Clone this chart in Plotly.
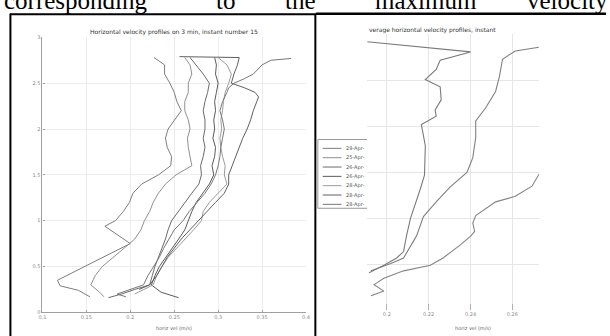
import plotly.graph_objects as go

W, H = 610, 336

# ---------------- data ----------------
top_words = ["corresponding", "to", "the", "maximum", "velocity"]

left_title = "Horizontal velocity profiles on 3 min, instant number 15"
right_title = "verage horizontal velocity profiles, instant"
x_label = "horiz vel (m/s)"

legend_labels = ["29-Apr-", "25-Apr-", "26-Apr-", "26-Apr-", "28-Apr-", "28-Apr-", "28-Apr-"]

p1_y = [2.78, 2.70, 2.60, 2.50, 2.40, 2.30, 2.20, 2.10, 2.00, 1.90, 1.80, 1.70, 1.60, 1.50, 1.40, 1.30, 1.20, 1.10, 1.00, 0.94, 0.85, 0.75, 0.65, 0.55, 0.45, 0.35, 0.29, 0.24, 0.17]
p1_x = [0.227, 0.239, 0.239, 0.245, 0.250, 0.253, 0.258, 0.250, 0.243, 0.240, 0.242, 0.247, 0.246, 0.232, 0.213, 0.203, 0.199, 0.192, 0.183, 0.171, 0.185, 0.200, 0.179, 0.158, 0.137, 0.117, 0.120, 0.141, 0.154]

p2_y = [2.78, 2.70, 2.60, 2.50, 2.40, 2.30, 2.20, 2.10, 2.00, 1.90, 1.80, 1.70, 1.60, 1.50, 1.40, 1.30, 1.20, 1.10, 1.00, 0.90, 0.80, 0.70, 0.60, 0.50, 0.40, 0.30, 0.22, 0.17]
p2_x = [0.262, 0.268, 0.270, 0.266, 0.266, 0.262, 0.262, 0.266, 0.268, 0.265, 0.266, 0.268, 0.270, 0.252, 0.240, 0.232, 0.226, 0.222, 0.216, 0.212, 0.205, 0.193, 0.180, 0.168, 0.160, 0.155, 0.165, 0.170]

p3_y = [2.78, 2.70, 2.60, 2.50, 2.40, 2.30, 2.20, 2.10, 2.00, 1.90, 1.80, 1.70, 1.60, 1.50, 1.40, 1.30, 1.20, 1.10, 1.00, 0.90, 0.80, 0.70, 0.60, 0.50, 0.40, 0.30, 0.25, 0.20, 0.16]
p3_x = [0.268, 0.275, 0.283, 0.290, 0.288, 0.285, 0.283, 0.285, 0.285, 0.283, 0.285, 0.283, 0.280, 0.281, 0.278, 0.270, 0.262, 0.255, 0.247, 0.243, 0.240, 0.236, 0.232, 0.228, 0.225, 0.222, 0.205, 0.190, 0.175]

p4_y = [2.78, 2.70, 2.60, 2.50, 2.40, 2.30, 2.20, 2.10, 2.00, 1.90, 1.80, 1.70, 1.60, 1.50, 1.40, 1.30, 1.20, 1.10, 1.00, 0.90, 0.80, 0.70, 0.60, 0.50, 0.40, 0.30, 0.22, 0.16]
p4_x = [0.296, 0.298, 0.297, 0.300, 0.298, 0.296, 0.297, 0.295, 0.296, 0.294, 0.297, 0.296, 0.293, 0.295, 0.290, 0.283, 0.275, 0.270, 0.266, 0.262, 0.255, 0.248, 0.240, 0.233, 0.228, 0.224, 0.235, 0.255]

p5_y = [2.78, 2.70, 2.60, 2.50, 2.40, 2.30, 2.20, 2.10, 2.00, 1.90, 1.80, 1.70, 1.60, 1.50, 1.40, 1.30, 1.20, 1.10, 1.00, 0.90, 0.80, 0.70, 0.60, 0.50, 0.40, 0.30, 0.25, 0.20]
p5_x = [0.300, 0.310, 0.315, 0.312, 0.308, 0.306, 0.305, 0.303, 0.304, 0.302, 0.303, 0.305, 0.308, 0.307, 0.310, 0.300, 0.290, 0.283, 0.281, 0.272, 0.262, 0.252, 0.243, 0.236, 0.230, 0.226, 0.215, 0.205]

p6_y = [2.79, 2.78, 2.70, 2.60, 2.50, 2.45, 2.40, 2.35, 2.30, 2.20, 2.10, 2.00, 1.90, 1.80, 1.70, 1.60, 1.50, 1.40, 1.30, 1.20, 1.10, 1.00, 0.90, 0.80, 0.70, 0.60, 0.50, 0.40, 0.30, 0.25]
p6_x = [0.256, 0.324, 0.322, 0.318, 0.315, 0.330, 0.342, 0.346, 0.344, 0.340, 0.337, 0.333, 0.328, 0.324, 0.320, 0.316, 0.312, 0.312, 0.307, 0.297, 0.287, 0.277, 0.268, 0.258, 0.250, 0.242, 0.236, 0.230, 0.222, 0.210]

p7_y = [2.77, 2.75, 2.70, 2.60, 2.55, 2.50, 2.45, 2.40, 2.30, 2.20, 2.10, 2.00, 1.90, 1.80, 1.70, 1.60, 1.50, 1.40, 1.30, 1.20, 1.10, 1.00, 0.90, 0.80, 0.70, 0.60, 0.50, 0.40, 0.30, 0.25, 0.20, 0.17]
p7_x = [0.383, 0.360, 0.350, 0.340, 0.330, 0.318, 0.312, 0.310, 0.305, 0.302, 0.305, 0.307, 0.305, 0.303, 0.302, 0.300, 0.297, 0.292, 0.285, 0.276, 0.267, 0.260, 0.250, 0.244, 0.238, 0.233, 0.226, 0.220, 0.215, 0.200, 0.185, 0.195]

left_profiles = [(p1_x, p1_y), (p2_x, p2_y), (p3_x, p3_y), (p4_x, p4_y),
                 (p5_x, p5_y), (p6_x, p6_y), (p7_x, p7_y)]
left_colors = ["#7d7d7d", "#8f8f8f", "#6a6a6a", "#5a5a5a", "#9a9a9a", "#606060", "#777777"]

# right panel: average profiles
r1_y = [2.92, 2.81, 2.72, 2.62, 2.51, 2.43, 2.29, 2.18, 2.11, 2.02, 1.79, 1.47, 1.32, 1.00, 0.81, 0.64, 0.57, 0.49, 0.41]
r1_x = [0.1906, 0.240, 0.2255, 0.2236, 0.2184, 0.2255, 0.226, 0.2231, 0.2236, 0.2165, 0.2184, 0.218, 0.216, 0.2113, 0.2094, 0.208, 0.2047, 0.1986, 0.1915]

r2_y = [2.86, 2.82, 2.73, 2.55, 2.38, 2.20, 2.06, 1.88, 1.66, 1.50, 1.34, 1.18, 1.02, 0.81, 0.57, 0.51, 0.43]
r2_x = [0.2727, 0.2614, 0.2553, 0.2539, 0.252, 0.2472, 0.2425, 0.2425, 0.2411, 0.2383, 0.2302, 0.2236, 0.2175, 0.2142, 0.208, 0.2019, 0.1924]

r3_y = [1.62, 1.48, 1.35, 1.24, 1.18, 1.03, 0.95, 0.86, 0.81, 0.71, 0.57, 0.49, 0.43, 0.35, 0.28, 0.21, 0.16]
r3_x = [0.280, 0.2727, 0.2694, 0.2614, 0.252, 0.2425, 0.2411, 0.242, 0.2402, 0.235, 0.2269, 0.2208, 0.208, 0.1986, 0.1939, 0.1986, 0.1924]

right_profiles = [(r1_x, r1_y), (r2_x, r2_y), (r3_x, r3_y)]
right_colors = ["#7a7a7a", "#808080", "#858585"]

left_xticks = [0.1, 0.15, 0.2, 0.25, 0.3, 0.35, 0.4]
left_yticks = [0, 0.5, 1, 1.5, 2, 2.5, 3]
right_xticks = [0.2, 0.22, 0.24, 0.26]


# ---------------- helpers (pixel -> paper) ----------------
def fx(px):
    return px / W


def fy(py):
    return 1 - py / H


fig = go.Figure()

for (xs, ys), c in zip(left_profiles, left_colors):
    fig.add_trace(go.Scatter(x=xs, y=ys, mode="lines", line=dict(color=c, width=1),
                             xaxis="x", yaxis="y", showlegend=False, hoverinfo="skip"))

for (xs, ys), c in zip(right_profiles, right_colors):
    fig.add_trace(go.Scatter(x=xs, y=ys, mode="lines", line=dict(color=c, width=1.1),
                             xaxis="x2", yaxis="y2", showlegend=False, hoverinfo="skip",
                             cliponaxis=True))

tickfont = dict(family="DejaVu Sans", size=5, color="#8a8a8a")

fig.update_layout(
    width=W, height=H,
    margin=dict(l=0, r=0, t=0, b=0),
    paper_bgcolor="white", plot_bgcolor="white",
    showlegend=False,
    xaxis=dict(domain=[fx(39), fx(306)], range=[0.1, 0.4], anchor="y",
               tickvals=left_xticks, ticktext=[str(v) for v in left_xticks],
               tickfont=tickfont, showgrid=True, gridcolor="#ececec", gridwidth=1,
               showline=True, linecolor="#a0a0a0", linewidth=1.2,
               ticks="inside", ticklen=2, tickcolor="#a0a0a0", zeroline=False),
    yaxis=dict(domain=[fy(315), fy(35)], range=[0, 3], anchor="x",
               tickvals=left_yticks, ticktext=[str(v) for v in left_yticks],
               tickfont=tickfont, showgrid=True, gridcolor="#ececec", gridwidth=1,
               showline=True, linecolor="#a0a0a0", linewidth=1.2,
               ticks="inside", ticklen=2, tickcolor="#a0a0a0", zeroline=False),
    xaxis2=dict(domain=[fx(368), fx(542)], range=[0.1906, 0.2727], anchor="y2",
                tickvals=right_xticks, ticktext=[str(v) for v in right_xticks],
                tickfont=tickfont, showgrid=True, gridcolor="#e6e6e6", gridwidth=1,
                showline=False, ticks="inside", ticklen=6, tickcolor="#b0b0b0",
                zeroline=False),
    yaxis2=dict(domain=[fy(313), fy(32)], range=[0, 3.0], anchor="x2",
                tickvals=[0.5, 1, 1.5, 2, 2.5], showticklabels=False,
                showgrid=True, gridcolor="#e6e6e6", gridwidth=1,
                showline=False, ticks="", zeroline=False),
)

ann = []
# top running text (justified, top clipped by the page edge as in the scan)
word_x = [-2, 213, 283, 374, 528]
for w, px in zip(top_words, word_x):
    ann.append(dict(text=w, x=fx(px), y=fy(-3), xref="paper", yref="paper",
                    xanchor="left", yanchor="middle", showarrow=False,
                    font=dict(family="Liberation Serif", size=25, color="black")))
# titles
ann.append(dict(text=left_title, x=fx(172), y=fy(30), xref="paper", yref="paper",
                xanchor="center", yanchor="middle", showarrow=False,
                font=dict(family="DejaVu Sans", size=6, color="#333")))
ann.append(dict(text=right_title, x=fx(368), y=fy(27), xref="paper", yref="paper",
                xanchor="left", yanchor="middle", showarrow=False,
                font=dict(family="DejaVu Sans", size=6, color="#333")))
# axis labels
ann.append(dict(text=x_label, x=fx(172), y=fy(331), xref="paper", yref="paper",
                xanchor="center", yanchor="middle", showarrow=False,
                font=dict(family="DejaVu Sans", size=5, color="#666")))
ann.append(dict(text=x_label, x=fx(475), y=fy(331), xref="paper", yref="paper",
                xanchor="center", yanchor="middle", showarrow=False,
                font=dict(family="DejaVu Sans", size=5, color="#666")))

shapes = []
# frames
shapes.append(dict(type="line", xref="paper", yref="paper", x0=fx(6.5), x1=fx(6.5), y0=fy(11), y1=fy(340),
                   line=dict(color="black", width=2)))
shapes.append(dict(type="line", xref="paper", yref="paper", x0=fx(6), x1=fx(316), y0=fy(11.5), y1=fy(11.5),
                   line=dict(color="black", width=2)))
shapes.append(dict(type="line", xref="paper", yref="paper", x0=fx(315.5), x1=fx(315.5), y0=fy(11), y1=fy(340),
                   line=dict(color="black", width=2)))
shapes.append(dict(type="line", xref="paper", yref="paper", x0=fx(316), x1=fx(610), y0=fy(11), y1=fy(11),
                   line=dict(color="black", width=2.5)))

# legend (cropped at the image edge)
lg_top, lg_bot, lg_left, lg_right = 139, 209, 318, 368
shapes.append(dict(type="line", xref="paper", yref="paper", x0=fx(lg_left), x1=fx(lg_right),
                   y0=fy(lg_top), y1=fy(lg_top), line=dict(color="#999", width=1)))
shapes.append(dict(type="line", xref="paper", yref="paper", x0=fx(lg_left), x1=fx(lg_right),
                   y0=fy(lg_bot), y1=fy(lg_bot), line=dict(color="#999", width=1)))
shapes.append(dict(type="line", xref="paper", yref="paper", x0=fx(lg_left), x1=fx(lg_left),
                   y0=fy(lg_top), y1=fy(lg_bot), line=dict(color="#999", width=1)))
for i, (lab, c) in enumerate(zip(legend_labels, left_colors)):
    py = 148 + i * 9.5
    shapes.append(dict(type="line", xref="paper", yref="paper", x0=fx(323), x1=fx(342),
                       y0=fy(py), y1=fy(py), line=dict(color=c, width=1)))
    ann.append(dict(text=lab, x=fx(345), y=fy(py), xref="paper", yref="paper",
                    xanchor="left", yanchor="middle", showarrow=False,
                    font=dict(family="DejaVu Sans", size=5, color="#555")))

fig.update_layout(annotations=ann, shapes=shapes)

# remove the default 8px body margin so the figure fills the window exactly
fig.write_html("out.html", config={"displayModeBar": False},
               post_script="document.body.style.margin='0';")
